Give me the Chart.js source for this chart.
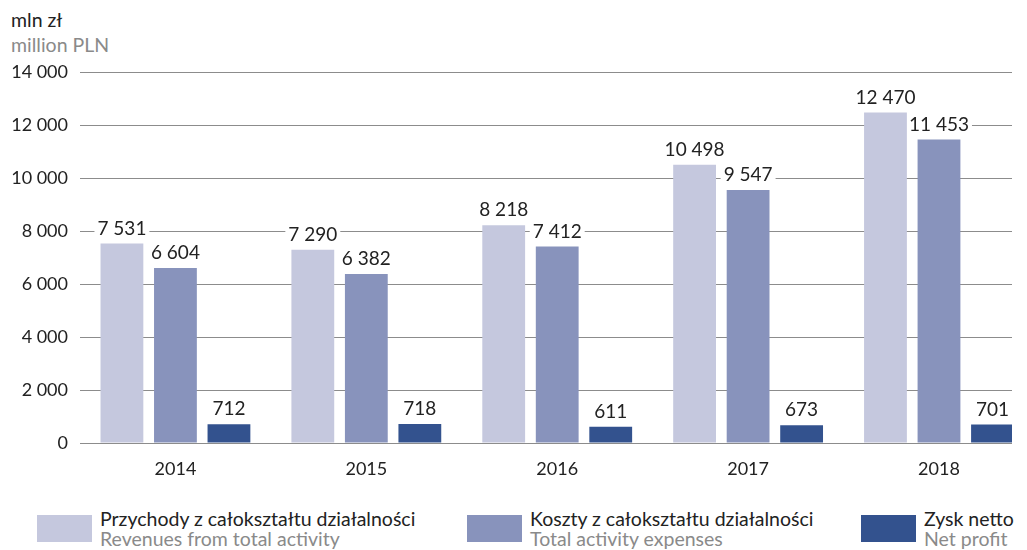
<!DOCTYPE html>
<html lang="pl">
<head>
    <meta charset="UTF-8" />
    <title>Przychody, koszty i zysk netto</title>
    <script src="https://cdn.jsdelivr.net/npm/chart.js"></script>
    <style>
        body {
            margin: 0;
            width: 1027px;
            height: 550px;
            overflow: hidden;
            background: #fff;
            font-family: Lato, "Noto Sans", sans-serif;
            position: relative;
        }
        .unit { position: absolute; left: 11px; font-size: 19.5px; line-height: 24px; }
        .unit.pl { top: 8px; color: #222; }
        .unit.en { top: 33px; color: #8a8a8a; }
        .chart-box { position: absolute; left: 0; top: 0; width: 1027px; height: 483px; }
        .legend-item { position: absolute; top: 509px; }
        .legend-item .sw { position: absolute; left: 0; top: 6px; width: 55px; height: 27px; }
        .legend-item .txt { position: absolute; left: 63px; top: 0; white-space: nowrap; font-size: 19.5px; line-height: 20px; color: #222; }
        .legend-item .txt span { display: block; color: #8a8a8a; }
    </style>
</head>
<body>
    <div class="unit pl">mln zł</div>
    <div class="unit en">million PLN</div>
    <div class="chart-box">
        <canvas id="finChart"></canvas>
    </div>
    <div class="legend-item" style="left:37px">
        <div class="sw" style="background:#c5c8de"></div>
        <div class="txt">Przychody z całokształtu działalności<span>Revenues from total activity</span></div>
    </div>
    <div class="legend-item" style="left:467px">
        <div class="sw" style="background:#8893bc"></div>
        <div class="txt">Koszty z całokształtu działalności<span>Total activity expenses</span></div>
    </div>
    <div class="legend-item" style="left:861px">
        <div class="sw" style="background:#33528e"></div>
        <div class="txt">Zysk netto<span>Net profit</span></div>
    </div>

    <script>
        const years = ['2014', '2015', '2016', '2017', '2018'];
        const revenues = [7531, 7290, 8218, 10498, 12470];
        const expenses = [6604, 6382, 7412, 9547, 11453];
        const netProfit = [712, 718, 611, 673, 701];
        const yTicks = [0, 2000, 4000, 6000, 8000, 10000, 12000, 14000];

        const FONT = 'Lato, "Noto Sans", sans-serif';

        function fmt(v) {
            return String(v).replace(/\B(?=(\d{3})+(?!\d))/g, ' ');
        }

        function toPoints(arr) {
            return arr.map((v, i) => ({ x: i, y: v }));
        }

        // white boxes behind value labels, drawn before bars so bars stay on top
        const valueLabels = {
            id: 'valueLabels',
            beforeDatasetsDraw(chart) {
                const ctx = chart.ctx;
                ctx.save();
                ctx.font = '19px ' + FONT;
                ctx.fillStyle = '#fff';
                chart.data.datasets.forEach((ds, i) => {
                    chart.getDatasetMeta(i).data.forEach((bar, j) => {
                        const w = ctx.measureText(fmt(ds.data[j].y)).width;
                        ctx.fillRect(bar.x - w / 2 - 3, bar.y - 27, w + 6, 22);
                    });
                });
                ctx.restore();
            },
            afterDatasetsDraw(chart) {
                const ctx = chart.ctx;
                ctx.save();
                ctx.font = '19px ' + FONT;
                ctx.fillStyle = '#222';
                ctx.textAlign = 'center';
                ctx.textBaseline = 'middle';
                chart.data.datasets.forEach((ds, i) => {
                    chart.getDatasetMeta(i).data.forEach((bar, j) => {
                        ctx.fillText(fmt(ds.data[j].y), bar.x, bar.y - 15);
                    });
                });
                ctx.restore();
            }
        };

        const ctx = document.getElementById('finChart').getContext('2d');

        new Chart(ctx, {
            type: 'bar',
            data: {
                datasets: [
                    { label: 'Przychody z całokształtu działalności', data: toPoints(revenues), backgroundColor: '#c5c8de' },
                    { label: 'Koszty z całokształtu działalności', data: toPoints(expenses), backgroundColor: '#8893bc' },
                    { label: 'Zysk netto', data: toPoints(netProfit), backgroundColor: '#33528e' }
                ]
            },
            options: {
                responsive: true,
                maintainAspectRatio: false,
                animation: false,
                categoryPercentage: 0.841,
                barPercentage: 0.8,
                layout: { padding: { left: 0, right: 15, top: 72, bottom: 0 } },
                scales: {
                    x: {
                        type: 'linear',
                        min: -0.5,
                        max: 4.3825,
                        offset: false,
                        grid: { display: false },
                        border: { display: false },
                        afterBuildTicks: (axis) => {
                            axis.ticks = years.map((_, i) => ({ value: i }));
                        },
                        afterFit: (axis) => { axis.height = 40; },
                        ticks: {
                            autoSkip: false,
                            maxRotation: 0,
                            padding: 7,
                            color: '#222',
                            font: { family: FONT, size: 18 },
                            callback: (v) => years[v] ?? ''
                        }
                    },
                    y: {
                        min: 0,
                        max: 14000,
                        afterBuildTicks: (axis) => {
                            axis.ticks = yTicks.map(v => ({ value: v }));
                        },
                        afterFit: (axis) => { axis.width = 80; },
                        grid: { color: '#8c8c8c', lineWidth: 1, drawTicks: false },
                        border: { display: false },
                        ticks: {
                            padding: 12,
                            color: '#222',
                            font: { family: FONT, size: 18 },
                            callback: (v) => fmt(v)
                        }
                    }
                },
                plugins: {
                    legend: { display: false },
                    tooltip: { enabled: false }
                }
            },
            plugins: [valueLabels]
        });
    </script>
</body>
</html>
